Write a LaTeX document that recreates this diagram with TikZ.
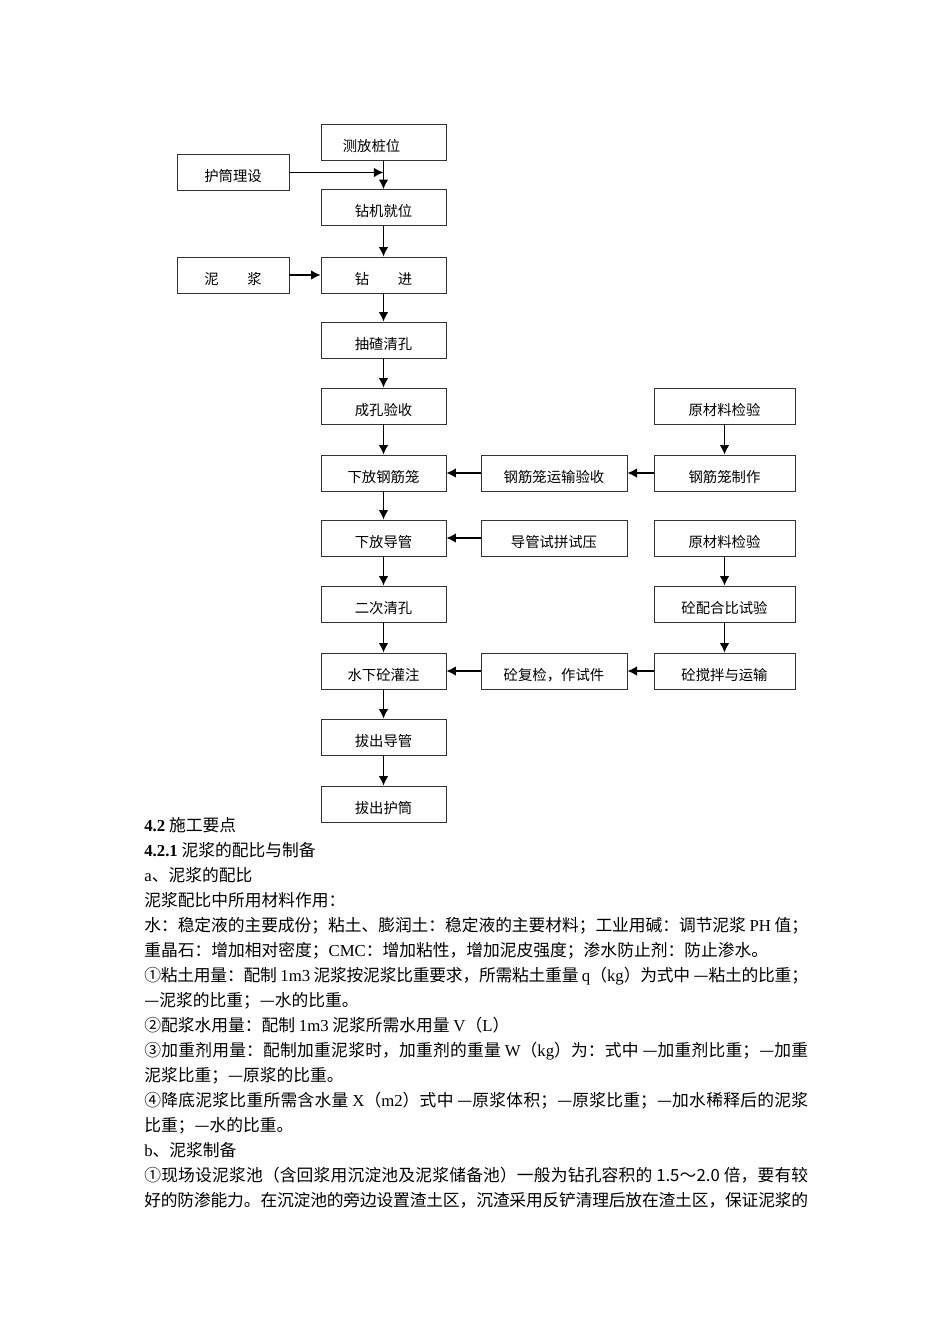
\documentclass[tikz,border=0pt]{standalone}
\usepackage{fontspec}
\setmainfont{Liberation Serif}
\newfontfamily\cjk{Noto Sans CJK SC}
\usetikzlibrary{arrows.meta}
\XeTeXlinebreaklocale "zh"
\XeTeXlinebreakskip=0pt plus 2pt minus 0.6pt
\newcommand{\vollzeile}[1]{\parbox[t]{416pt}{\tolerance=9999\parfillskip=0pt\noindent#1}}

\begin{document}
\begin{tikzpicture}[x=0.6266pt,y=-0.6266pt,>={Latex[length=6pt,width=6pt]}]
	\tikzstyle{every node}=[font=\cjk\fontsize{9}{10}\selectfont]
	\tikzstyle{kasten}=[draw=black!80, line width=0.55pt, minimum height=22.5pt, text height=12.6pt, text depth=1pt, inner sep=1pt]
	\tikzstyle{haupt}=[kasten, minimum width=78.3pt]
	\tikzstyle{links}=[kasten, minimum width=70.2pt]
	\tikzstyle{mitte}=[kasten, minimum width=91.5pt]
	\tikzstyle{rechts}=[kasten, minimum width=88.4pt]
	\tikzstyle{pfeil}=[->, line width=0.9pt]
	\tikzstyle{zeile}=[anchor=base west, inner sep=0pt, font=\cjk\fontsize{10.5}{12}\selectfont]
	
	\useasboundingbox (0,0) rectangle (950,1344);
	
	%Hauptablauf
	\node[haupt] (cefang) at (383.5,142.5) {测放桩位\hspace*{15pt}};
	\node[haupt] (zuanji) at (383.5,207.5) {钻机就位};
	\node[haupt] (zuanjin) at (383.5,275) {钻\hspace{2em}进};
	\node[haupt] (qingkong) at (383.5,340) {抽碴清孔};
	\node[haupt] (yanshou) at (383.5,406) {成孔验收};
	\node[haupt] (xiagj) at (383.5,473) {下放钢筋笼};
	\node[haupt] (xiadg) at (383.5,538) {下放导管};
	\node[haupt] (qingkong2) at (383.5,604) {二次清孔};
	\node[haupt] (guanzhu) at (383.5,671) {水下砼灌注};
	\node[haupt] (badg) at (383.5,737) {拔出导管};
	\node[haupt] (baht) at (383.5,804) {拔出护筒};
	
	%Zulieferung links
	\node[links] (hutong) at (233,172.5) {护筒理设};
	\node[links] (nijiang) at (233,275) {泥\hspace{2em}浆};
	
	%Mitte und rechts
	\node[mitte] (gjys) at (554,473) {钢筋笼运输验收};
	\node[mitte] (dgsy) at (554,538) {导管试拼试压};
	\node[mitte] (fujian) at (554,671) {砼复检，作试件};
	\node[rechts] (ycl1) at (724.5,406) {原材料检验};
	\node[rechts] (gjzz) at (724.5,473) {钢筋笼制作};
	\node[rechts] (ycl2) at (724.5,538) {原材料检验};
	\node[rechts] (pbsy) at (724.5,604) {砼配合比试验};
	\node[rechts] (jiaoban) at (724.5,671) {砼搅拌与运输};
	
	%Pfeile
	\draw[pfeil] (cefang) -- (zuanji);
	\draw[pfeil] (hutong) -- (hutong -| cefang);
	\draw[pfeil] (nijiang) -- (zuanjin);
	\foreach \a/\b in {zuanji/zuanjin, zuanjin/qingkong, qingkong/yanshou, yanshou/xiagj, xiagj/xiadg, xiadg/qingkong2, qingkong2/guanzhu, guanzhu/badg, badg/baht}
		\draw[pfeil] (\a) -- (\b);
	\foreach \a/\b in {ycl1/gjzz, gjzz/gjys, gjys/xiagj, dgsy/xiadg, ycl2/pbsy, pbsy/jiaoban, jiaoban/fujian, fujian/guanzhu}
		\draw[pfeil] (\a) -- (\b);
	
	%Fliesstext
	\node[zeile] (z0) at (144,831) {\textrm{\bfseries 4.2} 施工要点};
	\node[zeile] (z1) at (144,856) {\textrm{\bfseries 4.2.1} 泥浆的配比与制备};
	\node[zeile] (z2) at (144,881) {\textrm{a}、泥浆的配比};
	\node[zeile] (z3) at (144,906) {泥浆配比中所用材料作用：};
	\node[zeile] (z4) at (144,931) {\vollzeile{水：稳定液的主要成份；粘土、膨润土：稳定液的主要材料；工业用碱：调节泥浆 \textrm{PH} 值；}};
	\node[zeile] (z5) at (144,956) {重晶石：增加相对密度；\textrm{CMC}：增加粘性，增加泥皮强度；渗水防止剂：防止渗水。};
	\node[zeile] (z6) at (144,981) {\vollzeile{①粘土用量：配制 \textrm{1m3} 泥浆按泥浆比重要求，所需粘土重量 \textrm{q}（\textrm{kg}）为式中 —粘土的比重；}};
	\node[zeile] (z7) at (144,1006) {—泥浆的比重；—水的比重。};
	\node[zeile] (z8) at (144,1031) {②配浆水用量：配制 \textrm{1m3} 泥浆所需水用量 \textrm{V}（\textrm{L}）};
	\node[zeile] (z9) at (144,1056) {\vollzeile{③加重剂用量：配制加重泥浆时，加重剂的重量 \textrm{W}（\textrm{kg}）为：式中 —加重剂比重；—加重}};
	\node[zeile] (z10) at (144,1081) {泥浆比重；—原浆的比重。};
	\node[zeile] (z11) at (144,1106) {\vollzeile{④降底泥浆比重所需含水量 \textrm{X}（\textrm{m2}）式中 —原浆体积；—原浆比重；—加水稀释后的泥浆}};
	\node[zeile] (z12) at (144,1131) {比重；—水的比重。};
	\node[zeile] (z13) at (144,1156) {\textrm{b}、泥浆制备};
	\node[zeile] (z14) at (144,1181) {\vollzeile{①现场设泥浆池（含回浆用沉淀池及泥浆储备池）一般为钻孔容积的 1.5～2.0 倍，要有较}};
	\node[zeile] (z15) at (144,1206) {\vollzeile{好的防渗能力。在沉淀池的旁边设置渣土区，沉渣采用反铲清理后放在渣土区，保证泥浆的}};
\end{tikzpicture}
\end{document}
